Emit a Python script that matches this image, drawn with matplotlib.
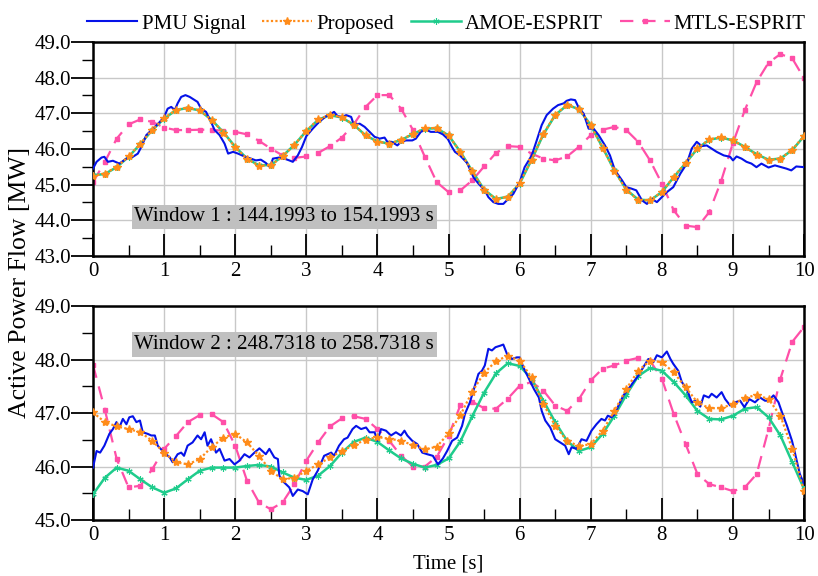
import numpy as np
import matplotlib
matplotlib.use("Agg")
import matplotlib.pyplot as plt
from matplotlib.ticker import MultipleLocator, FormatStrFormatter

plt.rcParams['font.family'] = ['Liberation Serif', 'DejaVu Serif']

# ---------------- data ----------------
series_names = ["PMU Signal", "Proposed", "AMOE-ESPRIT", "MTLS-ESPRIT"]
window_labels = ["Window 1 : 144.1993 to 154.1993 s",
                 "Window 2 : 248.7318 to 258.7318 s"]

# estimates sampled every 1/6 s from 0 to 10 s
t_est = np.linspace(0, 10, 61)

# ---- Window 1 ----
w1_pmu_t = [0, 0.05, 0.12, 0.16, 0.21, 0.28, 0.37, 0.47, 0.56, 0.63, 0.68, 0.75, 0.87, 0.94, 1.0,
            1.05, 1.1, 1.15, 1.19, 1.24, 1.3, 1.36, 1.43, 1.47, 1.52, 1.59, 1.66, 1.71, 1.78, 1.85,
            1.9, 1.97, 2.04, 2.13, 2.22, 2.29, 2.36, 2.43, 2.49, 2.53, 2.62, 2.69, 2.76, 2.81, 2.88,
            2.94, 3.0, 3.09, 3.18, 3.28, 3.35, 3.39, 3.44, 3.51, 3.56, 3.63, 3.67, 3.75, 3.82, 3.89,
            3.96, 4.03, 4.1, 4.14, 4.2, 4.28, 4.33, 4.4, 4.49, 4.54, 4.61, 4.68, 4.75, 4.85, 4.92,
            4.99, 5.05, 5.09, 5.16, 5.26, 5.35, 5.42, 5.51, 5.56, 5.63, 5.7, 5.77, 5.84, 5.91, 6.0,
            6.07, 6.17, 6.24, 6.31, 6.38, 6.47, 6.54, 6.62, 6.66, 6.72, 6.78, 6.83, 6.9, 6.97, 7.04,
            7.11, 7.2, 7.27, 7.34, 7.44, 7.5, 7.57, 7.64, 7.72, 7.79, 7.86, 7.93, 8.0, 8.07, 8.16,
            8.26, 8.35, 8.42, 8.49, 8.56, 8.63, 8.7, 8.77, 8.87, 8.96, 9.0, 9.05, 9.12, 9.19, 9.26,
            9.33, 9.4, 9.5, 9.59, 9.68, 9.75, 9.82, 9.89, 10.0]
w1_pmu_v = [45.45, 45.64, 45.76, 45.78, 45.64, 45.67, 45.59, 45.73, 45.78, 45.87, 46.06, 46.39, 46.62, 46.76, 46.90,
            47.13, 47.18, 47.09, 47.28, 47.46, 47.51, 47.46, 47.37, 47.32, 47.13, 47.04, 46.76, 46.53, 46.39, 46.15,
            45.87, 45.92, 45.87, 45.79, 45.73, 45.68, 45.70, 45.61, 45.49, 45.73, 45.76, 45.73, 45.68, 45.64, 45.82,
            46.06, 46.36, 46.57, 46.76, 46.92, 46.99, 47.04, 46.92, 46.90, 46.95, 46.90, 46.67, 46.71, 46.62, 46.48,
            46.34, 46.29, 46.32, 46.20, 46.20, 46.10, 46.20, 46.24, 46.24, 46.29, 46.48, 46.54, 46.48, 46.48, 46.41,
            46.28, 46.05, 45.92, 45.82, 45.61, 45.21, 45.03, 44.84, 44.65, 44.51, 44.46, 44.46, 44.60, 44.74, 45.07,
            45.49, 45.82, 46.24, 46.67, 46.95, 47.13, 47.23, 47.28, 47.35, 47.39, 47.37, 47.16, 46.99, 46.57, 46.57,
            46.39, 46.10, 45.82, 45.40, 45.12, 44.93, 44.89, 44.84, 44.56, 44.46, 44.60, 44.51, 44.65, 44.79, 44.93,
            45.31, 45.59, 46.01, 46.20, 46.08, 46.10, 46.01, 45.92, 45.82, 45.78, 45.68, 45.79, 45.73, 45.64, 45.59,
            45.49, 45.59, 45.48, 45.54, 45.49, 45.45, 45.40, 45.51, 45.49]

w1_amoe = [45.26, 45.30, 45.49, 45.78, 46.14, 46.53, 46.85, 47.09, 47.15, 47.08, 46.82, 46.47, 46.06, 45.73, 45.54,
           45.55, 45.80, 46.12, 46.50, 46.82, 46.95, 46.88, 46.68, 46.38, 46.21, 46.15, 46.25, 46.42, 46.57, 46.58,
           46.38, 45.92, 45.38, 44.86, 44.60, 44.66, 45.03, 45.69, 46.41, 46.95, 47.23, 47.12, 46.67, 46.04, 45.40,
           44.86, 44.58, 44.56, 44.79, 45.21, 45.60, 46.01, 46.26, 46.32, 46.24, 46.06, 45.85, 45.70, 45.73, 45.97,
           46.36]
w1_prop = [45.24, 45.31, 45.50, 45.79, 46.15, 46.54, 46.86, 47.10, 47.16, 47.08, 46.82, 46.46, 46.05, 45.72, 45.53,
           45.54, 45.79, 46.12, 46.51, 46.83, 46.96, 46.89, 46.68, 46.38, 46.20, 46.15, 46.26, 46.43, 46.58, 46.59,
           46.38, 45.91, 45.37, 44.85, 44.59, 44.66, 45.04, 45.70, 46.42, 46.96, 47.24, 47.12, 46.66, 46.03, 45.39,
           44.85, 44.57, 44.56, 44.80, 45.22, 45.61, 46.02, 46.27, 46.33, 46.24, 46.05, 45.84, 45.69, 45.73, 45.98,
           46.37]
w1_mtls = [45.07, 45.64, 46.29, 46.69, 46.83, 46.76, 46.60, 46.53, 46.53, 46.54, 46.54, 46.51, 46.48, 46.41, 46.23,
           46.01, 45.82, 45.75, 45.79, 45.89, 46.08, 46.32, 46.69, 47.18, 47.51, 47.51, 47.13, 46.53, 45.78, 45.07,
           44.79, 44.84, 45.12, 45.51, 45.89, 46.08, 46.06, 45.87, 45.73, 45.68, 45.79, 46.06, 46.39, 46.54, 46.62,
           46.53, 46.20, 45.68, 45.03, 44.28, 43.85, 43.81, 44.23, 45.10, 46.17, 47.09, 47.88, 48.42, 48.66, 48.54,
           47.98]

# ---- Window 2 ----
w2_pmu_t = [0, 0.05, 0.1, 0.16, 0.23, 0.28, 0.33, 0.37, 0.42, 0.47, 0.51, 0.56, 0.61, 0.66, 0.7, 0.77, 0.82,
            0.87, 0.91, 1.0, 1.08, 1.12, 1.19, 1.24, 1.28, 1.33, 1.4, 1.47, 1.52, 1.57, 1.61, 1.66, 1.73,
            1.78, 1.85, 1.92, 1.99, 2.06, 2.13, 2.2, 2.27, 2.34, 2.43, 2.48, 2.55, 2.6, 2.62, 2.69, 2.76,
            2.81, 2.88, 2.95, 3.02, 3.09, 3.16, 3.25, 3.35, 3.39, 3.46, 3.53, 3.58, 3.65, 3.7, 3.77, 3.84,
            3.89, 3.96, 4.0, 4.05, 4.12, 4.19, 4.26, 4.33, 4.38, 4.42, 4.49, 4.56, 4.63, 4.7, 4.78, 4.85,
            4.92, 4.98, 5.05, 5.12, 5.19, 5.23, 5.3, 5.37, 5.42, 5.47, 5.51, 5.56, 5.61, 5.66, 5.73, 5.77,
            5.82, 5.89, 5.96, 6.0, 6.05, 6.12, 6.2, 6.27, 6.31, 6.36, 6.43, 6.5, 6.57, 6.64, 6.69, 6.73,
            6.8, 6.87, 6.94, 7.01, 7.08, 7.15, 7.2, 7.24, 7.29, 7.34, 7.39, 7.46, 7.53, 7.6, 7.67, 7.74,
            7.81, 7.88, 7.93, 8.0, 8.07, 8.12, 8.16, 8.23, 8.28, 8.35, 8.42, 8.47, 8.54, 8.59, 8.66, 8.7,
            8.77, 8.84, 8.89, 8.96, 9.03, 9.1, 9.16, 9.23, 9.31, 9.38, 9.45, 9.5, 9.57, 9.64, 9.69, 9.76,
            9.83, 9.87, 9.94, 10.0]
w2_pmu_v = [45.98, 46.29, 46.26, 46.39, 46.61, 46.70, 46.83, 46.73, 46.89, 46.79, 46.92, 46.94, 46.83, 46.86, 46.64, 46.61, 46.58,
            46.58, 46.39, 46.26, 46.17, 46.08, 46.23, 46.26, 46.20, 46.39, 46.45, 46.58, 46.51, 46.64, 46.39, 46.51, 46.26,
            46.33, 46.11, 46.14, 46.04, 46.11, 46.23, 46.17, 46.26, 46.34, 46.23, 46.33, 46.17, 46.14, 45.83, 45.70, 45.61,
            45.45, 45.57, 45.54, 45.48, 45.76, 45.92, 46.20, 46.26, 46.20, 46.39, 46.51, 46.54, 46.70, 46.76, 46.70, 46.73,
            46.64, 46.64, 46.48, 46.70, 46.67, 46.58, 46.64, 46.58, 46.67, 46.58, 46.48, 46.42, 46.26, 46.23, 46.20, 46.04,
            46.15, 46.29, 46.48, 46.54, 46.76, 46.98, 47.20, 47.51, 47.73, 47.79, 47.89, 48.20, 48.17, 48.23, 48.26, 48.28,
            48.11, 48.01, 48.04, 48.04, 47.86, 47.67, 47.45, 47.29, 47.04, 46.86, 46.73, 46.51, 46.45, 46.39, 46.23, 46.36,
            46.33, 46.51, 46.48, 46.67, 46.79, 46.89, 46.86, 46.95, 46.92, 46.98, 47.14, 47.33, 47.45, 47.58, 47.70, 47.86,
            48.01, 47.95, 48.08, 48.04, 48.15, 48.01, 47.92, 47.79, 47.58, 47.45, 47.20, 47.23, 47.12, 47.33, 47.29, 47.36,
            47.29, 47.39, 47.26, 47.14, 47.20, 47.23, 47.11, 47.26, 47.20, 47.29, 47.23, 47.23, 47.33, 47.20, 47.01, 46.76,
            46.48, 46.26, 45.86, 45.67]

w2_amoe = [45.48, 45.79, 45.98, 45.92, 45.76, 45.61, 45.51, 45.59, 45.76, 45.92, 45.98, 45.98, 45.98, 46.01, 46.03,
           46.00, 45.89, 45.79, 45.75, 45.83, 46.01, 46.26, 46.46, 46.54, 46.46, 46.30, 46.15, 46.05, 45.98, 46.03,
           46.15, 46.47, 46.94, 47.38, 47.74, 47.93, 47.88, 47.64, 47.23, 46.83, 46.48, 46.29, 46.36, 46.61, 46.95,
           47.34, 47.69, 47.84, 47.79, 47.58, 47.33, 47.04, 46.89, 46.88, 46.95, 47.08, 47.11, 46.92, 46.58, 46.08,
           45.58]
w2_prop = [47.01, 46.83, 46.75, 46.70, 46.64, 46.48, 46.26, 46.08, 46.04, 46.14, 46.36, 46.54, 46.61, 46.45, 46.20,
           45.92, 45.76, 45.79, 45.92, 46.04, 46.17, 46.29, 46.40, 46.50, 46.55, 46.52, 46.48, 46.40, 46.32, 46.37,
           46.62, 46.96, 47.40, 47.75, 47.97, 48.07, 47.98, 47.67, 47.17, 46.76, 46.48, 46.38, 46.42, 46.67, 47.04,
           47.45, 47.79, 47.98, 47.95, 47.76, 47.48, 47.20, 47.09, 47.09, 47.17, 47.28, 47.34, 47.26, 46.95, 46.33,
           45.54]
w2_mtls = [47.90, 47.06, 46.14, 45.61, 45.64, 45.95, 46.33, 46.57, 46.83, 46.96, 46.98, 46.83, 46.39, 45.73, 45.33,
           45.20, 45.33, 45.67, 46.11, 46.45, 46.75, 46.90, 46.94, 46.89, 46.70, 46.48, 46.20, 46.00, 46.00, 46.18,
           46.57, 47.15, 47.21, 47.09, 47.08, 47.27, 47.51, 47.58, 47.42, 47.14, 47.04, 47.26, 47.61, 47.83, 47.89,
           47.98, 48.03, 47.98, 47.64, 46.98, 46.42, 45.86, 45.67, 45.61, 45.54, 45.61, 45.86, 46.70, 47.64, 48.33,
           48.61]

windows = [
    dict(pmu_t=w1_pmu_t, pmu_v=w1_pmu_v, prop=w1_prop, amoe=w1_amoe, mtls=w1_mtls,
         ylim=(43.0, 49.0), label=window_labels[0], label_xy=(2.69, 44.1)),
    dict(pmu_t=w2_pmu_t, pmu_v=w2_pmu_v, prop=w2_prop, amoe=w2_amoe, mtls=w2_mtls,
         ylim=(45.0, 49.0), label=window_labels[1], label_xy=(2.69, 48.28)),
]

# ---------------- styles ----------------
c_pmu = '#0512e8'
c_prop = '#ff8c1a'
c_amoe = '#1fcc8c'
c_mtls = '#ff4fa8'
FS = 15

fig = plt.figure(figsize=(8.18, 5.76), dpi=100)
ax_rects = [[0.1137, 0.5556, 0.8693, 0.3715],
            [0.1137, 0.0972, 0.8693, 0.3715]]
axes = []
for rect, w in zip(ax_rects, windows):
    ax = fig.add_axes(rect)
    axes.append(ax)
    ax.plot(t_est, w['mtls'], color=c_mtls, lw=1.6, ls=(0, (6, 4)),
            marker='s', ms=3.2, mec=c_mtls, mfc=c_mtls, label=series_names[3], zorder=2)
    ax.plot(t_est, w['amoe'], color=c_amoe, lw=1.8, marker=(6, 2, 0), ms=4.5,
            mec=c_amoe, mew=0.8, label=series_names[2], zorder=3)
    ax.plot(w['pmu_t'], w['pmu_v'], color=c_pmu, lw=1.5, label=series_names[0], zorder=4)
    ax.plot(t_est, w['prop'], color=c_prop, lw=1.6, ls=(0, (1, 1)), marker='*', ms=6,
            mec=c_prop, mfc=c_prop, label=series_names[1], zorder=5)

    ax.set_xlim(0, 10)
    ax.set_ylim(*w['ylim'])
    ax.xaxis.set_major_locator(MultipleLocator(1))
    ax.xaxis.set_minor_locator(MultipleLocator(0.5))
    ax.yaxis.set_major_locator(MultipleLocator(1))
    ax.yaxis.set_minor_locator(MultipleLocator(0.5))
    ax.yaxis.set_major_formatter(FormatStrFormatter('%.1f'))
    ax.tick_params(axis='x', which='major', direction='in', length=16, width=1.3,
                   labelsize=FS, pad=4, top=False)
    ax.tick_params(axis='x', which='minor', direction='in', length=8, width=1.0, top=False)
    ax.tick_params(axis='y', which='major', direction='out', length=16, width=1.3,
                   labelsize=FS, pad=0, right=False)
    ax.tick_params(axis='y', which='minor', direction='out', length=8, width=1.0, right=False)
    ax.grid(True, which='major', color='#c8c8c8', lw=1.0, zorder=0)
    ax.set_axisbelow(True)
    for sp in ax.spines.values():
        sp.set_linewidth(1.8)
    ax.text(*w['label_xy'], w['label'], ha='center', va='center', fontsize=FS,
            bbox=dict(facecolor='#c0c0c0', edgecolor='none', pad=2.0), zorder=6)

axes[1].set_xlabel('Time [s]', fontsize=FS, labelpad=7)
fig.text(0.024, 0.51, 'Active Power Flow [MW]', rotation=90, ha='center', va='center', fontsize=18.5)

handles, labels = axes[0].get_legend_handles_labels()
order = [2, 3, 1, 0]
fig.legend([handles[i] for i in order], [labels[i] for i in order], loc='upper center',
           bbox_to_anchor=(0.546, 1.008), ncol=4, frameon=False, fontsize=FS,
           handlelength=2.4, columnspacing=0.8, handletextpad=0.2)

fig.savefig('out.png', dpi=100)
